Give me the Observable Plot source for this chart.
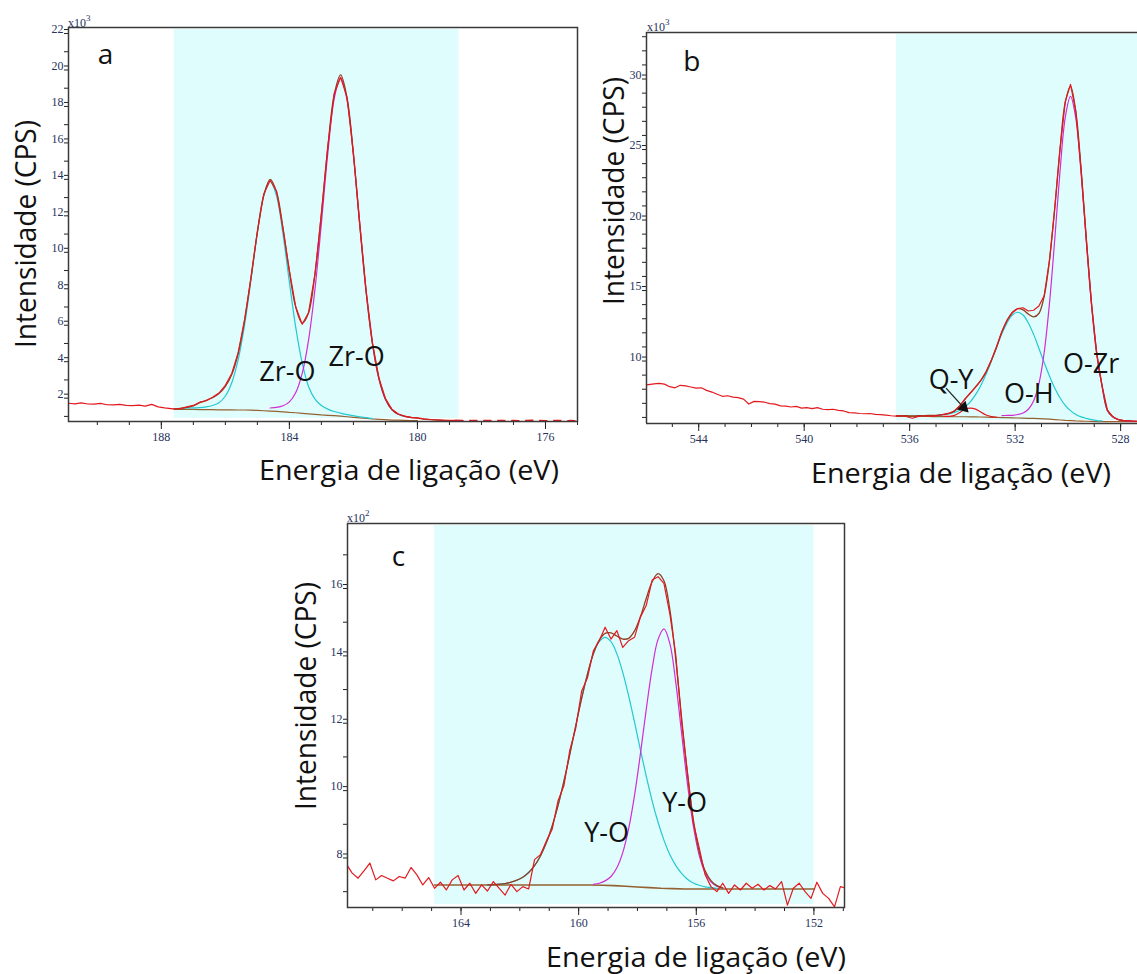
<!DOCTYPE html>
<html lang="pt">
<head>
<meta charset="utf-8">
<script src="https://cdn.jsdelivr.net/npm/d3@7"></script>
<script src="https://cdn.jsdelivr.net/npm/@observablehq/plot@0.6"></script>
<style>
html,body{margin:0;padding:0;background:#fff;}
body{position:relative;width:1137px;height:974px;overflow:hidden;}
</style>
</head>
<body>
<script>
// ================= DATA =================
// ---- panel a : Zr 3d ----
const aXDomain = [190.9, 175.0];
const aYDomain = [0.72, 22.33];
const aShade = [187.6, 178.7];
const aXMajor = [188, 184, 180, 176];
const aXMinor = [190,189,188,187,186,185,184,183,182,181,180,179,178,177,176,175];
const aYMajor = [2,4,6,8,10,12,14,16,18,20,22];
const aYMinor = [1,2,3,4,5,6,7,8,9,10,11,12,13,14,15,16,17,18,19,20,21,22];
const aX = [187.6,187.4,187.2,187.0,186.8,186.6,186.4,186.2,186.0,185.8,185.6,185.4,185.2,185.0,184.8,184.6,184.4,184.2,184.0,183.8,183.6,183.4,183.2,183.0,182.8,182.6,182.4,182.2,182.0,181.8,181.6,181.4,181.2,181.0,180.8,180.6,180.4,180.2,180.0,179.8,179.6,179.4,179.2,179.0,178.8];
const aBg = [1.38,1.38,1.38,1.38,1.37,1.37,1.37,1.36,1.36,1.36,1.35,1.35,1.34,1.33,1.31,1.29,1.27,1.25,1.22,1.20,1.17,1.14,1.11,1.08,1.06,1.04,1.01,0.98,0.95,0.92,0.89,0.86,0.84,0.82,0.80,0.79,0.78,0.77,0.77,null,null,null,null,null,null];
const aCyan = [null,1.44,1.46,1.47,1.48,1.52,1.60,1.75,2.12,2.85,4.11,6.02,8.48,11.08,13.12,13.89,13.08,11.00,8.36,5.87,3.93,2.63,1.95,1.60,1.40,1.27,1.18,1.10,1.04,0.98,0.93,0.88,null,null,null,null,null,null,null,null,null,null,null,null,null];
const aMagenta = [null,null,null,null,null,null,null,null,null,null,null,null,null,null,null,1.46,1.49,1.58,1.80,2.31,3.36,5.20,7.99,11.60,15.42,18.42,19.56,18.36,15.31,11.44,7.77,4.92,3.03,1.93,1.38,1.12,1.00,0.94,null,null,null,null,null,null,null];
const aEnv = [1.40,1.44,1.50,1.58,1.75,1.88,2.02,2.25,2.65,3.30,4.45,6.25,8.60,11.10,13.12,14.00,13.30,11.33,8.94,6.98,6.12,6.69,8.83,12.12,15.76,18.65,19.73,18.48,15.40,11.50,7.81,4.94,3.06,1.96,1.38,1.12,1.00,0.94,0.90,0.85,0.82,0.80,0.78,0.77,0.77];
const aRawFit = [1.41,1.43,1.52,1.60,1.78,1.86,2.05,2.28,2.70,3.35,4.50,6.30,8.60,11.15,13.20,13.95,13.35,11.30,9.00,7.00,6.05,6.70,8.80,12.10,15.80,18.70,19.60,18.50,15.45,11.55,7.85,4.98,3.10,1.98,1.40,1.13,1.02,0.95,0.92,0.86,0.83,0.81,0.79,0.78,0.78];
const aRawLeftX = [190.9,190.7,190.5,190.3,190.1,189.9,189.7,189.5,189.3,189.1,188.9,188.7,188.5,188.3,188.1,187.9,187.7];
const aRawLeft = [1.72,1.69,1.74,1.68,1.67,1.71,1.64,1.63,1.66,1.60,1.59,1.62,1.56,1.66,1.52,1.47,1.43];
const aTailX = [178.8,178.6,178.4,178.2,178.0,177.8,177.6,177.4,177.2,177.0,176.8,176.6,176.4,176.2,176.0,175.8,175.6,175.4,175.2,175.0];
const aTail = [0.78,0.77,0.78,0.77,0.78,0.77,0.76,0.77,0.78,0.77,0.76,0.77,0.78,0.77,0.76,0.77,0.77,0.76,0.77,0.76];
const aLabels = [
  {text: "a", x: 189.74, y: 20.8, size: 28},
  {text: "Zr-O", x: 184.06, y: 3.43, size: 27},
  {text: "Zr-O", x: 181.9, y: 4.25, size: 27}
];

// ---- panel b : O 1s ----
const bXDomain = [545.98, 527.36];
const bYDomain = [5.57, 33.3];
const bShade = [536.5, 527.36];
const bXMajor = [544, 540, 536, 532, 528];
const bXMinor = [545,544,543,542,541,540,539,538,537,536,535,534,533,532,531,530,529,528];
const bYMajor = [10, 15, 20, 25, 30];
const bYMinor = [6,7,8,9,10,11,12,13,14,15,16,17,18,19,20,21,22,23,24,25,26,27,28,29,30,31,32,33];
const bRawLeftX = [546.1,545.9,545.7,545.5,545.3,545.1,544.9,544.7,544.5,544.3,544.1,543.9,543.7,543.5,543.3,543.1,542.9,542.7,542.5,542.3,542.1,541.9,541.7,541.5,541.3,541.1,540.9,540.7,540.5,540.3,540.1,539.9,539.7,539.5,539.3,539.1,538.9,538.7,538.5,538.3,538.1,537.9,537.7,537.5,537.3,537.1,536.9,536.7];
const bRawLeft = [8.28,8.33,8.38,8.41,8.36,8.18,8.10,8.28,8.24,8.16,8.08,8.10,7.92,7.80,7.64,7.50,7.54,7.44,7.40,7.30,6.95,7.14,7.12,7.08,6.98,6.94,6.82,6.80,6.74,6.78,6.66,6.70,6.62,6.70,6.58,6.55,6.58,6.50,6.46,6.34,6.32,6.28,6.26,6.28,6.22,6.20,6.16,6.12];
const bX = [536.5,536.3,536.1,535.9,535.7,535.5,535.3,535.1,534.9,534.7,534.5,534.3,534.1,533.9,533.7,533.5,533.3,533.1,532.9,532.7,532.5,532.3,532.1,531.9,531.7,531.5,531.3,531.1,530.9,530.7,530.5,530.3,530.1,529.9,529.7,529.5,529.3,529.1,528.9,528.7,528.5,528.3,528.1,527.9,527.7,527.5,527.3];
const bBg = [6.08,6.08,6.08,6.07,6.07,6.07,6.07,6.06,6.06,6.06,6.06,6.05,6.05,6.05,6.04,6.04,6.03,6.02,6.01,6.00,5.99,5.98,5.97,5.96,5.95,5.94,5.93,5.92,5.90,5.88,5.85,5.82,5.79,5.77,5.75,5.74,5.73,5.72,5.71,5.71,5.70,5.70,5.70,5.70,5.70,5.70,5.70];
const bCyan = [null,null,null,null,null,null,null,null,6.17,6.20,6.26,6.35,6.51,6.76,7.11,7.62,8.27,9.08,10.00,10.99,11.95,12.74,13.28,13.46,13.26,12.70,11.89,10.91,9.89,8.94,8.09,7.40,6.86,6.48,6.21,6.04,5.93,5.84,5.78,5.75,null,null,null,null,null,null,null];
const bMagenta = [null,null,null,null,null,null,null,null,null,null,null,null,null,null,null,null,null,null,null,null,6.13,6.14,6.15,6.21,6.32,6.58,7.17,8.38,10.59,14.05,18.57,23.42,27.27,28.77,27.23,23.34,18.45,13.89,10.40,8.17,6.50,6.05,5.85,5.78,5.75,5.73,5.72];
const bOY = [null,null,null,null,null,null,null,null,null,6.07,6.08,6.15,6.35,6.60,6.66,6.59,6.38,6.17,6.06,6.01,null,null,null,null,null,null,null,null,null,null,null,null,null,null,null,null,null,null,null,null,null,null,null,null,null,null,null];
const bEnv = [6.12,6.12,6.12,6.11,6.12,6.13,6.14,6.14,6.17,6.21,6.28,6.45,6.81,7.31,7.73,8.17,8.62,9.23,10.05,11.00,12.09,12.90,13.46,13.71,13.63,13.34,13.13,13.37,14.58,17.11,20.81,25.00,28.34,29.48,27.69,23.64,18.65,14.01,10.47,8.21,6.50,6.05,5.85,5.78,5.75,5.73,5.72];
const bRawFit = [6.10,6.13,6.05,5.94,6.06,6.12,6.10,6.09,6.14,6.22,6.30,6.48,6.84,7.30,7.72,8.15,8.62,9.25,10.08,11.05,12.10,12.92,13.45,13.72,13.78,13.55,13.60,13.90,14.62,17.10,20.80,25.00,28.40,29.62,27.70,23.60,18.60,14.00,10.45,8.20,6.52,6.06,5.86,5.78,5.75,5.73,5.72];
const bLabels = [
  {text: "b", x: 544.26, y: 31.19, size: 28},
  {text: "Q-Y", x: 534.43, y: 8.66, size: 27},
  {text: "O-H", x: 531.48, y: 7.67, size: 27},
  {text: "O-Zr", x: 529.12, y: 9.73, size: 27}
];
const bArrow = [{x1: 534.62, y1: 8.08, x2: 533.95, y2: 6.70}];

// ---- panel c : Y 3d ----
const cXDomain = [167.86, 150.96];
const cYDomain = [6.53, 17.93];
const cShade = [164.9, 152.0];
const cXMajor = [164, 160, 156, 152];
const cXMinor = [167,166,165,164,163,162,161,160,159,158,157,156,155,154,153,152,151];
const cYMajor = [8, 10, 12, 14, 16];
const cYMinor = [7,8,9,10,11,12,13,14,15,16,17];
const cRawX = [167.9,167.7,167.5,167.3,167.1,166.9,166.7,166.5,166.3,166.1,165.9,165.7,165.5,165.3,165.1,164.9,164.7,164.5,164.3,164.1,163.9,163.7,163.5,163.3,163.1,162.9,162.7,162.5,162.3,162.1,161.9,161.7,161.5,161.3,161.1,160.9,160.7,160.5,160.3,160.1,159.9,159.7,159.5,159.3,159.1,158.9,158.7,158.5,158.3,158.1,157.9,157.7,157.5,157.3,157.1,156.9,156.7,156.5,156.3,156.1,155.9,155.7,155.5,155.3,155.1,154.9,154.7,154.5,154.3,154.1,153.9,153.7,153.5,153.3,153.1,152.9,152.7,152.5,152.3,152.1,151.9,151.7,151.5,151.3,151.1,150.9];
const cRaw = [7.82,7.55,7.40,7.62,7.85,7.35,7.48,7.40,7.32,7.45,7.40,7.72,7.50,7.20,7.42,7.10,7.28,7.05,7.35,7.48,7.05,7.25,6.95,7.20,7.02,7.30,7.10,6.90,7.22,7.00,7.15,7.08,7.95,8.10,8.50,8.85,9.70,10.15,11.20,11.85,12.95,13.35,14.15,14.45,14.85,14.50,14.75,14.25,14.45,14.55,15.15,15.50,16.25,16.35,16.15,15.25,14.05,12.05,10.55,9.05,8.30,7.50,7.15,7.00,7.25,6.95,7.20,7.05,7.25,7.10,7.22,7.05,7.18,7.08,7.30,6.60,7.10,7.25,7.00,6.80,7.28,6.95,6.80,6.55,7.15,7.10];
const cX = [163.1,162.9,162.7,162.5,162.3,162.1,161.9,161.7,161.5,161.3,161.1,160.9,160.7,160.5,160.3,160.1,159.9,159.7,159.5,159.3,159.1,158.9,158.7,158.5,158.3,158.1,157.9,157.7,157.5,157.3,157.1,156.9,156.7,156.5,156.3,156.1,155.9,155.7,155.5,155.3,155.1];
const cCyan = [7.20,7.21,7.22,7.24,7.28,7.34,7.43,7.57,7.77,8.06,8.45,8.95,9.56,10.28,11.08,11.92,12.73,13.46,14.05,14.42,14.55,14.42,14.06,13.51,12.81,12.03,11.21,10.42,9.69,9.06,8.53,8.10,7.78,7.54,7.37,7.26,7.19,7.14,7.12,7.10,null];
const cMagenta = [null,null,null,null,null,null,null,null,null,null,null,null,null,null,null,null,null,null,7.22,7.25,7.32,7.45,7.71,8.16,8.87,9.86,11.09,12.42,13.63,14.49,14.80,14.37,13.23,11.71,10.20,8.95,8.08,7.56,7.29,7.16,7.11];
const cEnv = [7.20,7.21,7.22,7.24,7.28,7.34,7.43,7.57,7.77,8.06,8.45,8.95,9.56,10.28,11.08,11.92,12.73,13.46,14.07,14.47,14.67,14.68,14.59,14.50,14.52,14.74,15.16,15.71,16.20,16.44,16.23,15.38,13.92,12.17,10.49,9.13,8.19,7.62,7.33,7.18,7.11];
const cBgX = [164.9, 159.6, 159.2, 158.8, 158.4, 158.0, 157.6, 157.2, 156.8, 156.4, 152.0];
const cBg = [7.20, 7.20, 7.19, 7.18, 7.16, 7.14, 7.12, 7.10, 7.09, 7.08, 7.08];
const cLabels = [
  {text: "c", x: 166.13, y: 16.92, size: 28},
  {text: "Y-O", x: 159.05, y: 8.73, size: 27},
  {text: "Y-O", x: 156.4, y: 9.62, size: 27}
];

// ================= STYLE =================
const RED = "#e3191f", CYAN = "#22c8d2", MAGENTA = "#d22bd4", BROWN = "#946230", ENV = "#8e3f22";
const LABEL_FONT = "'Open Sans', 'Noto Sans', sans-serif";

const rows = (xs, ys) => xs.map((x, i) => ({x, y: ys[i]}));

function panel(c) {
  const marks = [];
  marks.push(Plot.rect([c.shade], {x1: d => d[0], x2: d => d[1], fill: "#e0fdfd", insetTop: 2, insetBottom: 3}));
  for (const s of c.series) {
    marks.push(Plot.line(rows(s.x, s.y), {
      x: "x", y: "y", stroke: s.stroke, strokeWidth: s.width || 1.2,
      curve: s.curve || "linear", strokeDasharray: s.dash, clip: true
    }));
  }
  if (c.arrow) {
    marks.push(Plot.link(c.arrow, {x1: "x1", y1: "y1", x2: "x2", y2: "y2", stroke: "#222", strokeWidth: 1.3}));
    marks.push(Plot.dot(c.arrow, {x: "x2", y: "y2", symbol: "triangle", r: 4.5, fill: "#111", stroke: "none", rotate: 135}));
  }
  marks.push(Plot.axisX({ticks: c.xMinor, tickSize: 4, tickFormat: () => "", label: null, stroke: "#222"}));
  marks.push(Plot.axisX({ticks: c.xMajor, tickSize: 8, tickPadding: 3, tickFormat: d => String(d), label: null, fontSize: 12, stroke: "#222"}));
  marks.push(Plot.axisY({ticks: c.yMinor, tickSize: 4, tickFormat: () => "", label: null, stroke: "#222"}));
  marks.push(Plot.axisY({ticks: c.yMajor, tickSize: 4, tickPadding: 1, tickFormat: d => String(d), label: null, fontSize: 12, dy: -4, stroke: "#222"}));
  if (c.fullFrame) {
    marks.push(Plot.frame({stroke: "#3a3a3a", strokeWidth: 1.5}));
  } else {
    marks.push(Plot.ruleY([c.yDomain[1]], {stroke: "#3a3a3a", strokeWidth: 1.5}));
    marks.push(Plot.ruleY([c.yDomain[0]], {stroke: "#3a3a3a", strokeWidth: 1.5}));
    marks.push(Plot.ruleX([c.xDomain[0]], {stroke: "#3a3a3a", strokeWidth: 1.5}));
  }
  marks.push(Plot.text(c.labels, {x: "x", y: "y", text: "text", fontSize: d => d.size, fontFamily: LABEL_FONT, fill: "#111"}));

  const svg = Plot.plot({
    width: c.width, height: c.height,
    marginLeft: c.ml, marginRight: c.mr, marginTop: c.mt, marginBottom: c.mb,
    x: {type: "linear", domain: c.xDomain},
    y: {type: "linear", domain: c.yDomain},
    style: {fontFamily: "'Liberation Serif', 'DejaVu Serif', serif", fontSize: "12px", color: "#26325c", background: "transparent", overflow: "visible"},
    marks
  });
  svg.style.position = "absolute";
  svg.style.left = c.left + "px";
  svg.style.top = c.top + "px";
  svg.style.maxWidth = "none";
  document.body.appendChild(svg);
}

panel({
  left: 0, top: 0, width: 600, height: 450, ml: 68, mr: 23, mt: 27, mb: 29,
  xDomain: aXDomain, yDomain: aYDomain, shade: aShade,
  xMajor: aXMajor, xMinor: aXMinor, yMajor: aYMajor, yMinor: aYMinor, fullFrame: true,
  labels: aLabels,
  series: [
    {x: aX, y: aBg, stroke: BROWN},
    {x: aX, y: aCyan, stroke: CYAN, curve: "catmull-rom"},
    {x: aX, y: aMagenta, stroke: MAGENTA, curve: "catmull-rom"},
    {x: aX, y: aEnv, stroke: ENV, curve: "catmull-rom", width: 1.3},
    {x: aRawLeftX.concat(aX), y: aRawLeft.concat(aRawFit), stroke: RED},
    {x: aTailX, y: aTail, stroke: RED, dash: "7,7", width: 1.6}
  ]
});

panel({
  left: 580, top: 0, width: 557, height: 450, ml: 66, mr: 0, mt: 32, mb: 27,
  xDomain: bXDomain, yDomain: bYDomain, shade: bShade,
  xMajor: bXMajor, xMinor: bXMinor, yMajor: bYMajor, yMinor: bYMinor, fullFrame: false,
  labels: bLabels, arrow: bArrow,
  series: [
    {x: bX, y: bBg, stroke: BROWN},
    {x: bX, y: bCyan, stroke: CYAN, curve: "catmull-rom"},
    {x: bX, y: bMagenta, stroke: MAGENTA, curve: "catmull-rom"},
    {x: bX, y: bOY, stroke: RED, curve: "catmull-rom"},
    {x: bX, y: bEnv, stroke: ENV, curve: "catmull-rom", width: 1.3},
    {x: bRawLeftX.concat(bX), y: bRawLeft.concat(bRawFit), stroke: RED}
  ]
});

panel({
  left: 280, top: 500, width: 590, height: 440, ml: 67, mr: 26, mt: 23, mb: 33,
  xDomain: cXDomain, yDomain: cYDomain, shade: cShade,
  xMajor: cXMajor, xMinor: cXMinor, yMajor: cYMajor, yMinor: cYMinor, fullFrame: true,
  labels: cLabels,
  series: [
    {x: cBgX, y: cBg, stroke: BROWN, width: 1.6},
    {x: cX, y: cCyan, stroke: CYAN, curve: "catmull-rom"},
    {x: cX, y: cMagenta, stroke: MAGENTA, curve: "catmull-rom"},
    {x: cX, y: cEnv, stroke: ENV, curve: "catmull-rom", width: 1.3},
    {x: cRawX, y: cRaw, stroke: RED}
  ]
});

// ================= TITLES (overlay) =================
const ov = d3.select("body").append("svg")
  .attr("width", 1137).attr("height", 974)
  .style("position", "absolute").style("left", "0px").style("top", "0px")
  .style("pointer-events", "none");

const titles = [
  {text: "Intensidade (CPS)", x: 36, y: 234, rot: true, len: 228, size: 29},
  {text: "Energia de ligação (eV)", x: 409, y: 480, rot: false, len: 300, size: 28},
  {text: "Intensidade (CPS)", x: 624, y: 191, rot: true, len: 228, size: 29},
  {text: "Energia de ligação (eV)", x: 961, y: 483, rot: false, len: 300, size: 28},
  {text: "Intensidade (CPS)", x: 316, y: 696, rot: true, len: 228, size: 29},
  {text: "Energia de ligação (eV)", x: 696, y: 967, rot: false, len: 300, size: 28}
];
for (const t of titles) {
  ov.append("text")
    .attr("transform", t.rot ? `translate(${t.x},${t.y}) rotate(-90)` : `translate(${t.x},${t.y})`)
    .attr("text-anchor", "middle")
    .attr("font-family", LABEL_FONT)
    .attr("font-size", t.size)
    .attr("fill", "#111")
    .attr("textLength", t.len)
    .attr("lengthAdjust", "spacingAndGlyphs")
    .text(t.text);
}

const mult = [
  {x: 68, y: 27, exp: "3"},
  {x: 647, y: 31, exp: "3"},
  {x: 347, y: 522, exp: "2"}
];
for (const m of mult) {
  const t = ov.append("text").attr("x", m.x).attr("y", m.y)
    .attr("font-family", "'Liberation Serif', serif").attr("font-size", 12).attr("fill", "#26325c")
    .text("x10");
  t.append("tspan").attr("dy", -6).attr("font-size", 9).text(m.exp);
}
</script>
</body>
</html>
